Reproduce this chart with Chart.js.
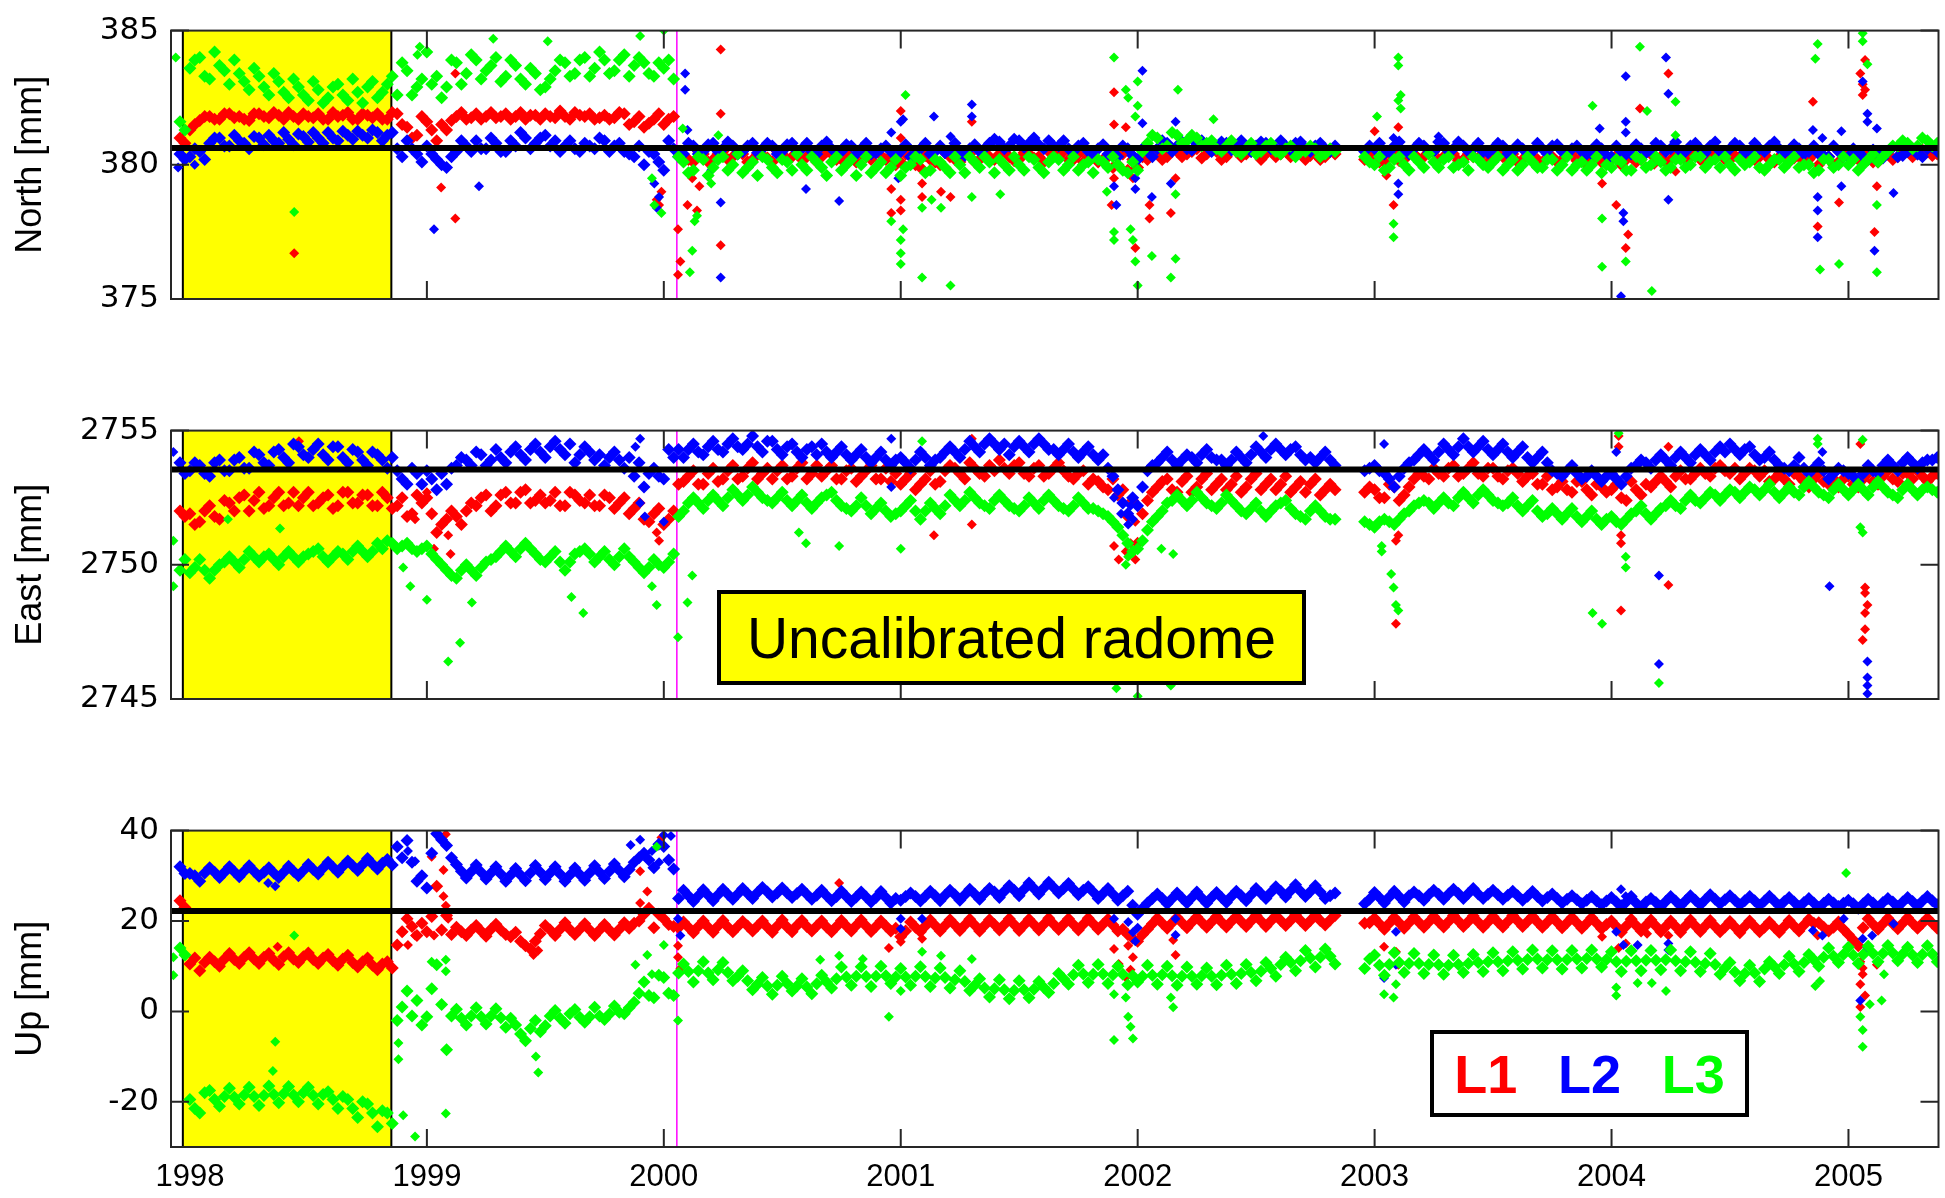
<!DOCTYPE html>
<html><head><meta charset="utf-8">
<script src="https://cdn.jsdelivr.net/npm/chart.js@4.4.1/dist/chart.umd.min.js"></script>
<style>
html,body{margin:0;padding:0;background:#fff;width:1945px;height:1198px;overflow:hidden;}
canvas{position:absolute;left:0;}
#radome{position:absolute;left:717px;top:590px;width:589px;height:95px;box-sizing:border-box;border:4px solid #000;background:#FFFF00;
  font-family:"Liberation Sans",Arial,sans-serif;font-size:57px;color:#000;display:flex;align-items:center;justify-content:center;white-space:nowrap;}
#legend{position:absolute;left:1430px;top:1030px;width:319px;height:87px;box-sizing:border-box;border:4px solid #000;background:#fff;
  display:flex;align-items:center;justify-content:center;font-family:"Liberation Sans",Arial,sans-serif;font-weight:bold;font-size:54px;}
#legend span{display:inline-block;width:108px;text-align:center;}
</style></head><body>
<canvas id="cN" width="1945" height="400" style="top:0px"></canvas>
<canvas id="cE" width="1945" height="400" style="top:400px"></canvas>
<canvas id="cU" width="1945" height="398" style="top:800px"></canvas>
<div id="radome"></div>
<div id="legend"></div>
<script>
// ---------- axes / annotation values ----------
const years = [1998, 1999, 2000, 2001, 2002, 2003, 2004, 2005];
const xRange = [1997.92, 2005.38];
const gridStart = 1997.958;          // first sample epoch (decimal year) of the A reads
const gridStep = 1 / 24;             // half-month sampling; B reads sit half a step later
const yellowSpan = [1997.97, 1998.85];
const radomeSwitch = 2000.055;
const panelTitles = ['North [mm]', 'East [mm]', 'Up [mm]'];
const northTicks = [375, 380, 385];
const eastTicks = [2745, 2750, 2755];
const upTicks = [-20, 0, 20, 40];
const yRanges = [[375, 385], [2745, 2755], [-30, 40]];
const refLevels = [380.63, 2753.55, 22.2];
const seriesNames = ['L1', 'L2', 'L3'];
const seriesColors = ['#FF0000', '#0000FF', '#00FF00'];
const boxText = 'Uncalibrated radome';

// ---------- North ----------
const nL1 = [381.0,
 381.3,381.65,381.8,381.7,381.9,381.8,381.65,381.9,381.75,381.85,381.95,381.7,381.8,381.9,381.7,381.8,381.95,381.7,381.85,381.9,381.7,381.9,381.4,381.1,
 381.6,380.9,381.3,381.8,381.7,381.9,381.8,381.75,381.9,381.8,381.7,381.85,381.9,381.75,381.8,381.95,381.8,381.7,381.85,381.75,381.9,381.6,381.4,381.7,
 381.5,381.8,380.3,380.1,380.4,380.2,380.5,380.3,380.4,380.2,380.35,380.1,380.4,380.3,380.2,380.45,380.3,380.4,380.2,380.3,380.4,380.2,380.35,380.3,
 380.1,380.3,379.9,380.2,380.0,380.3,380.1,380.4,380.2,380.3,380.4,380.3,380.2,380.4,380.3,380.5,380.3,380.2,380.4,380.3,380.1,380.3,380.0,379.8,
 379.9,380.2,380.4,380.3,380.5,380.4,380.6,380.4,380.5,380.3,380.5,380.4,380.6,380.4,380.3,380.5,380.4,380.2,380.4,380.3,380.4,null,null,380.2,
 380.3,380.1,380.4,380.2,380.4,380.3,380.5,380.3,380.4,380.2,380.3,380.4,380.2,380.3,380.4,380.2,380.3,380.1,380.3,380.2,380.4,380.3,380.2,380.1,
 380.2,380.0,380.3,380.2,380.4,380.3,380.2,380.4,380.3,380.2,380.3,380.4,380.2,380.3,380.4,380.3,380.2,380.3,380.1,380.3,380.2,380.0,380.3,380.1,
 380.4,380.2,380.3,380.1,380.4,380.3,380.5,380.4,380.5,380.4];
const nL1B = [380.8,
 381.5,381.8,381.7,381.9,381.75,381.7,381.9,381.8,381.95,381.7,381.8,381.9,381.75,381.7,381.95,381.85,381.7,381.9,381.75,381.7,381.95,381.5,381.0,381.8,
 381.3,381.5,381.65,381.95,381.75,381.7,381.95,381.8,381.7,381.95,381.85,381.7,381.8,382.0,381.7,381.85,381.9,381.75,381.7,381.95,381.5,381.8,381.55,381.9,
 381.7,380.5,380.2,380.5,380.1,380.4,380.2,380.45,380.1,380.4,380.25,380.5,380.15,380.4,380.3,380.1,380.5,380.2,380.45,380.1,380.3,380.5,380.2,380.0,
 380.4,380.0,380.35,380.1,380.45,380.2,380.5,380.1,380.45,380.2,380.5,380.15,380.45,380.25,380.1,380.4,380.5,380.2,380.1,380.45,380.2,379.9,380.4,380.2,
 380.3,380.5,380.2,380.6,380.3,380.5,380.25,380.6,380.2,380.55,380.3,380.5,380.2,380.55,380.4,380.3,380.55,380.35,380.2,380.5,null,null,null,380.4,
 380.1,380.4,380.15,380.45,380.2,380.5,380.2,380.45,380.15,380.4,380.25,380.1,380.45,380.2,380.1,380.4,380.2,380.45,380.1,380.4,380.15,380.0,380.35,380.3,
 380.35,380.2,380.1,380.45,380.15,380.1,380.45,380.2,380.4,380.1,380.45,380.2,380.35,380.15,380.2,380.45,380.1,380.4,380.25,380.05,380.4,380.25,380.0,380.35,
 380.2,380.45,380.1,380.35,380.2,380.5,380.3,380.55,380.35,null];
const nL2 = [380.4,
 380.3,380.5,380.8,381.0,380.7,380.9,380.6,381.0,381.1,380.8,380.95,381.15,380.85,381.0,381.2,380.9,381.1,381.25,381.0,381.2,381.1,380.6,380.9,380.4,
 380.7,380.2,379.9,380.5,380.7,380.9,380.6,380.8,380.5,380.7,381.0,380.8,381.1,380.9,380.7,380.6,380.8,380.6,380.9,380.7,380.5,380.3,380.0,380.4,
 379.8,380.6,380.4,380.7,380.5,380.8,380.6,380.7,380.5,380.8,380.6,380.7,380.5,380.8,380.6,380.5,380.7,380.6,380.5,380.7,380.6,380.4,380.6,380.5,
 380.5,380.3,380.6,380.4,380.7,380.5,380.4,380.6,380.5,380.8,380.85,380.7,380.9,380.8,380.75,380.9,380.7,380.6,380.7,380.5,380.6,380.4,380.3,380.6,
 380.2,380.5,380.6,380.8,380.7,380.6,380.8,380.7,380.6,380.8,380.7,380.6,380.7,380.8,380.6,380.7,380.8,380.6,380.7,380.6,380.7,null,null,380.5,
 380.6,380.4,380.7,380.5,380.6,380.7,380.5,380.8,380.6,380.7,380.6,380.5,380.6,380.7,380.5,380.6,380.5,380.6,380.7,380.5,380.6,380.5,380.4,380.6,
 380.3,380.5,380.4,380.6,380.5,380.7,380.6,380.5,380.7,380.6,380.7,380.5,380.6,380.7,380.5,380.6,380.7,380.6,380.5,380.6,380.5,380.4,380.3,380.5,
 380.3,380.5,380.2,380.4,380.5,380.3,380.5,380.4,380.6,380.5];
const nL2B = [380.2,
 380.6,380.2,381.0,380.7,381.1,380.8,381.05,380.75,380.9,381.2,380.75,381.05,381.2,380.8,381.0,381.25,380.95,381.1,381.3,380.9,381.2,380.3,380.6,380.1,
 380.4,380.0,380.3,380.9,380.5,380.6,381.0,380.5,380.9,381.2,380.6,381.0,380.7,380.5,380.9,380.5,380.7,381.0,380.5,380.8,380.4,380.7,380.5,380.1,
 380.9,380.3,380.8,380.4,380.75,380.5,380.85,380.4,380.7,380.45,380.8,380.4,380.75,380.5,380.8,380.4,380.85,380.45,380.75,380.4,380.8,380.45,380.7,380.4,
 380.75,380.4,380.8,380.5,380.45,380.8,380.35,380.75,380.6,380.95,380.6,380.95,380.65,381.0,380.6,380.7,380.9,380.5,380.8,380.4,380.75,380.5,380.7,380.35,
 380.6,380.3,380.9,380.5,380.85,380.55,380.9,380.5,380.85,380.55,380.9,380.5,380.85,380.6,380.9,380.55,380.85,380.5,380.8,380.5,null,null,null,380.7,
 380.8,380.5,380.85,380.4,380.8,380.45,380.85,380.5,380.85,380.5,380.8,380.45,380.8,380.4,380.75,380.45,380.8,380.4,380.75,380.4,380.7,380.4,380.75,380.35,
 380.7,380.4,380.75,380.45,380.8,380.5,380.85,380.5,380.8,380.45,380.85,380.5,380.8,380.45,380.8,380.5,380.85,380.45,380.75,380.4,380.7,380.35,380.7,380.3,
 380.6,380.3,380.55,380.25,380.65,380.35,380.6,380.3,380.65,null];
const nL3 = [381.6,
 383.6,384.0,383.2,383.7,383.0,383.4,382.8,383.3,382.6,383.1,382.5,382.9,382.4,382.8,382.5,383.0,382.4,382.7,382.9,382.5,383.0,382.6,383.5,382.9,
 384.2,383.3,382.9,383.8,383.4,383.9,383.5,384.0,383.3,383.7,383.0,383.4,382.9,383.5,383.8,383.4,384.0,383.6,383.9,383.5,384.1,383.7,383.8,383.3,
 383.6,383.2,380.1,379.8,380.2,379.9,380.3,380.0,379.7,380.1,380.3,379.9,380.2,379.8,380.0,380.3,379.9,380.1,379.8,380.2,380.0,379.7,380.1,379.9,
 379.6,380.0,380.2,379.8,380.1,379.7,380.0,380.3,379.9,380.1,380.2,379.8,380.0,380.3,379.9,380.1,380.2,380.0,379.8,380.1,380.2,379.9,380.0,379.7,
 379.8,380.8,381.0,380.7,381.1,380.9,381.0,380.8,380.6,380.7,380.5,380.6,380.4,380.7,380.5,380.6,380.3,380.5,380.6,380.4,380.5,null,null,380.3,
 380.0,379.8,380.2,380.0,380.3,379.9,380.1,380.2,379.9,380.1,380.3,380.0,380.1,379.8,380.2,380.0,380.1,379.9,380.2,380.0,379.8,380.1,380.0,379.7,
 379.9,380.1,379.8,380.2,380.0,380.1,379.9,380.2,380.0,380.3,380.1,379.9,380.0,380.2,380.1,379.9,380.0,380.2,380.1,379.9,380.0,379.8,380.2,380.0,
 380.0,379.8,380.2,380.1,380.5,380.7,380.8,380.7,380.9,380.8];
const nL3B = [381.3,
 383.9,383.3,384.2,383.5,383.9,383.1,383.6,382.9,383.4,382.7,383.2,382.6,383.1,382.3,382.9,382.6,383.2,382.3,383.1,382.7,383.3,383.8,382.6,383.2,
 383.0,382.5,383.9,383.0,384.1,383.2,383.7,383.1,383.9,383.2,383.6,382.8,383.2,383.9,383.3,383.9,383.3,384.2,383.4,383.9,383.3,384.0,383.4,383.8,
 383.9,380.3,379.7,380.3,379.6,380.2,379.8,380.4,379.9,379.6,380.2,379.7,380.1,380.4,379.8,380.1,379.6,380.3,380.0,379.6,380.3,379.9,379.7,380.2,
 379.9,380.3,379.7,380.2,379.9,380.3,379.7,380.1,380.3,379.7,380.0,380.3,379.8,380.2,379.7,380.3,379.8,380.3,380.0,379.7,380.1,380.3,379.8,380.1,
 380.5,381.1,380.6,381.2,380.8,381.1,380.7,380.9,380.5,380.9,380.4,380.8,380.5,380.8,380.4,380.7,380.5,380.7,380.3,380.6,null,null,null,380.1,
 380.3,379.9,380.3,379.8,380.1,380.4,379.9,380.3,380.0,379.8,380.2,379.9,380.3,380.0,379.8,380.3,379.9,380.2,379.8,380.3,380.0,379.8,380.3,380.0,
 380.2,379.8,380.3,379.9,380.3,379.8,380.2,379.9,380.3,379.9,380.2,380.3,379.8,380.0,380.3,379.8,380.2,379.9,380.3,380.0,379.7,380.2,379.9,380.3,
 380.2,380.0,380.4,380.3,380.7,380.9,380.6,381.0,380.7,null];
const nL1x = [[1998.44,376.7],[1999.06,379.15],[1999.12,378.0],[1999.12,383.4],[1999.97,378.7],[1999.98,378.5],[1999.99,379.0],[2000.06,377.6],[2000.07,376.4],[2000.06,375.9],[2000.1,378.5],[2000.12,379.5],[2000.15,379.2],[2000.14,378.3],[2000.24,384.3],[2000.24,381.9],[2000.24,377.0],[2001.0,382.0],[2001.0,381.0],[2000.96,379.1],[2001.0,378.7],[2001.0,378.3],[2000.96,378.2],[2001.09,379.3],[2001.09,378.8],[2001.17,379.0],[2001.21,378.8],[2001.3,381.6],[2001.9,382.7],[2001.9,381.5],[2001.95,381.4],[2001.9,379.5],[2001.89,378.5],[2001.99,379.9],[2001.98,379.5],[2001.99,376.9],[2002.05,378.5],[2002.05,378.0],[2002.14,378.2],[2002.16,379.5],[2003.0,381.25],[2003.1,381.4],[2003.05,379.6],[2003.08,378.5],[2004.12,382.1],[2004.24,383.4],[2004.02,378.5],[2004.06,376.9],[2004.07,377.4],[2003.96,379.3],[2004.18,380.0],[2004.27,379.75],[2004.85,382.35],[2004.87,377.7],[2004.96,378.6],[2005.05,383.4],[2005.06,383.0],[2005.07,382.8],[2005.06,382.6],[2005.07,383.9],[2005.11,377.5],[2005.12,379.2]];
const nL2x = [[1997.95,379.9],[1998.02,380.0],[1999.03,377.6],[1999.22,379.2],[1999.96,379.3],[1999.97,378.4],[1999.98,378.8],[2000.09,383.4],[2000.09,382.8],[2000.1,381.3],[2000.2,379.8],[2000.24,375.8],[2000.24,378.6],[2000.6,379.1],[2000.74,378.65],[2000.96,381.2],[2000.96,379.9],[2000.99,379.5],[2001.01,381.7],[2001.0,381.6],[2001.14,381.8],[2001.21,381.05],[2001.3,382.25],[2001.3,381.8],[2001.9,379.2],[2001.91,378.5],[2001.99,379.1],[2001.99,379.5],[2002.02,383.5],[2002.02,381.55],[2002.06,378.8],[2002.14,379.3],[2002.16,381.6],[2003.08,381.0],[2003.1,379.3],[2003.1,378.9],[2003.27,381.05],[2003.95,381.35],[2004.06,383.3],[2004.06,381.6],[2004.06,381.2],[2004.05,378.2],[2004.05,377.9],[2004.04,375.1],[2004.23,384.0],[2004.24,382.65],[2004.24,378.7],[2004.85,381.3],[2004.87,378.8],[2004.87,378.3],[2004.87,377.3],[2004.89,381.0],[2004.97,381.25],[2004.97,379.2],[2005.06,383.1],[2005.08,381.9],[2005.08,381.6],[2005.12,381.35],[2005.11,376.8],[2005.19,378.95]];
const nL3x = [[1997.94,384.0],[1998.44,378.24],[1998.96,384.1],[1998.97,384.4],[1999.28,384.7],[1999.51,384.6],[1999.9,384.8],[2000.0,385.0],[1999.95,379.5],[1999.96,378.5],[1999.99,378.2],[2000.08,381.35],[2000.23,381.1],[2000.2,379.3],[2000.13,377.9],[2000.12,376.8],[2000.11,376.0],[2000.14,378.1],[2001.02,382.6],[2000.96,377.9],[2001.01,377.6],[2001.0,377.2],[2001.0,376.7],[2001.0,376.3],[2001.09,375.8],[2001.21,375.5],[2001.09,378.4],[2001.13,378.7],[2001.17,378.4],[2001.3,378.8],[2001.42,378.9],[2001.9,384.0],[2001.95,382.8],[2001.96,382.5],[2002.0,383.1],[2002.0,382.2],[2001.99,381.8],[2002.17,382.8],[2002.32,381.7],[2001.9,377.5],[2001.9,377.2],[2001.97,377.6],[2001.98,377.2],[2001.99,376.4],[2002.0,375.5],[2002.06,376.6],[2002.14,375.8],[2002.16,376.5],[2002.16,378.9],[2001.87,379.0],[2003.01,381.8],[2003.1,384.0],[2003.1,383.7],[2003.11,382.6],[2003.1,382.4],[2003.11,382.1],[2003.08,377.8],[2003.08,377.3],[2003.92,382.2],[2004.12,384.4],[2004.15,382.0],[2004.27,382.35],[2004.27,381.1],[2003.96,378.0],[2003.96,376.2],[2004.06,376.4],[2004.17,375.3],[2004.87,384.5],[2004.86,383.95],[2004.88,376.1],[2004.96,376.3],[2005.06,384.9],[2005.06,384.6],[2005.08,383.75],[2005.12,376.0],[2005.12,378.5]];

// ---------- East ----------
const eL1 = [2752.0,
 2751.9,2751.6,2752.2,2751.7,2752.3,2752.5,2752.0,2752.7,2752.2,2752.7,2752.3,2752.2,2752.7,2752.3,2752.6,2752.2,2752.7,2752.3,2752.6,2752.2,2752.5,2752.2,2751.8,2752.6,
 2752.5,2751.2,2751.7,2751.8,2752.0,2752.2,2752.6,2752.2,2752.7,2752.3,2752.8,2752.4,2752.3,2752.7,2752.2,2752.6,2752.3,2752.2,2752.6,2752.1,2752.5,2752.1,2751.7,2751.9,
 2751.5,2752.0,2753.1,2753.5,2753.0,2753.6,2753.2,2753.7,2753.3,2753.8,2753.4,2753.2,2753.7,2753.3,2753.8,2753.4,2753.3,2753.7,2753.2,2753.6,2753.3,2753.7,2753.2,2753.1,
 2753.0,2753.4,2753.0,2753.5,2753.1,2753.7,2753.4,2753.8,2753.4,2753.7,2753.9,2753.4,2753.8,2753.3,2753.7,2753.4,2753.8,2753.3,2753.4,2753.0,2753.1,2752.8,2752.6,2751.8,
 2750.8,2752.4,2752.9,2753.2,2752.7,2753.3,2752.9,2753.4,2753.0,2752.8,2753.3,2752.9,2753.4,2753.0,2752.8,2753.3,2752.9,2752.7,2753.2,2752.8,2752.8,null,null,2752.7,
 2752.8,2752.5,2752.9,2752.6,2753.2,2753.3,2753.6,2753.3,2753.7,2753.4,2753.8,2753.3,2753.6,2753.2,2753.6,2753.1,2753.4,2753.0,2752.8,2753.1,2752.7,2753.1,2752.6,2752.9,
 2752.8,2752.5,2753.1,2752.6,2752.9,2753.3,2752.9,2753.5,2753.2,2753.6,2753.3,2753.7,2753.4,2753.2,2753.6,2753.3,2753.1,2753.4,2753.0,2753.3,2752.9,2753.4,2753.0,2752.9,
 2753.3,2752.9,2753.4,2753.0,2753.5,2753.1,2753.4,2753.5,2753.1,2753.4];
const eL1B = [2751.8,
 2751.5,2752.0,2751.8,2752.4,2752.0,2752.6,2752.4,2752.1,2752.5,2752.2,2752.7,2752.5,2752.2,2752.5,2752.1,2752.7,2752.3,2752.6,2752.2,2752.7,2752.1,2752.5,2751.9,2752.3,
 2751.9,2751.5,2752.0,2751.5,2752.3,2752.5,2752.0,2752.6,2752.3,2752.7,2752.3,2752.6,2752.4,2752.2,2752.7,2752.4,2752.6,2752.2,2752.5,2752.3,2751.9,2752.3,2751.6,2752.1,
 2751.7,2753.0,2753.3,2753.0,2753.4,2753.1,2753.5,2753.2,2753.6,2753.2,2753.6,2753.5,2753.2,2753.6,2753.2,2753.7,2753.5,2753.2,2753.5,2753.1,2753.5,2753.2,2753.6,2753.4,
 2753.2,2752.8,2753.2,2753.0,2753.5,2753.6,2753.2,2753.6,2753.3,2753.5,2753.6,2753.7,2753.4,2753.6,2753.3,2753.6,2753.5,2753.2,2753.5,2753.2,2752.9,2753.2,2752.8,2752.4,
 2751.9,2752.7,2753.1,2752.8,2753.1,2752.7,2753.2,2752.8,2753.2,2753.0,2752.7,2753.2,2752.8,2753.2,2753.0,2752.7,2753.1,2753.0,2752.6,2753.0,null,null,null,2752.9,
 2752.5,2753.0,2752.4,2752.9,2753.4,2753.2,2753.4,2753.6,2753.3,2753.6,2753.4,2753.6,2753.3,2753.5,2753.4,2753.3,2753.0,2753.3,2752.9,2752.8,2753.1,2752.8,2753.0,2752.7,
 2753.0,2752.4,2752.8,2753.0,2753.1,2753.1,2753.3,2753.2,2753.4,2753.4,2753.6,2753.5,2753.6,2753.4,2753.5,2753.5,2753.2,2753.2,2753.4,2753.1,2753.2,2753.1,2753.2,2753.2,
 2753.0,2753.2,2753.1,2753.3,2753.2,2753.4,2753.2,2753.3,2753.3,null];
const eL2 = [2753.8,
 2753.5,2753.7,2753.3,2753.9,2753.5,2754.0,2753.6,2754.1,2753.7,2754.3,2753.8,2754.4,2754.0,2754.5,2753.9,2754.4,2753.8,2754.2,2753.7,2754.1,2753.6,2753.5,2753.0,2753.4,
 2753.5,2752.8,2753.0,2753.7,2753.9,2754.2,2753.7,2754.3,2753.8,2754.4,2753.9,2754.5,2754.0,2754.6,2754.1,2753.8,2754.4,2753.9,2753.7,2754.2,2753.6,2753.3,2752.9,2753.6,
 2753.2,2754.0,2754.0,2754.5,2754.1,2754.6,2754.2,2754.7,2754.3,2754.8,2754.2,2754.6,2754.1,2754.5,2754.0,2754.4,2754.5,2754.0,2754.4,2753.9,2754.3,2753.8,2754.2,2753.7,
 2754.0,2753.6,2754.2,2753.7,2754.0,2754.4,2754.0,2754.6,2754.2,2754.7,2754.3,2754.1,2754.6,2754.2,2754.7,2754.3,2754.1,2754.5,2754.0,2754.4,2753.9,2753.6,2752.8,2751.9,
 2752.2,2753.5,2753.8,2754.2,2753.7,2754.1,2753.8,2754.3,2753.9,2753.7,2754.2,2753.8,2754.4,2754.0,2754.5,2754.1,2754.4,2753.9,2753.8,2754.2,2753.7,null,null,2753.5,
 2753.7,2753.4,2752.9,2753.6,2753.9,2754.3,2753.9,2754.5,2754.1,2754.7,2754.2,2754.6,2754.1,2754.5,2754.0,2754.4,2753.8,2754.2,2753.5,2753.3,2753.7,2753.2,2753.5,2753.1,
 2753.4,2753.0,2753.6,2753.9,2753.6,2754.1,2753.7,2754.2,2753.8,2754.3,2753.9,2754.4,2754.5,2754.1,2754.4,2753.9,2754.2,2753.7,2753.5,2754.0,2753.4,2753.8,2753.2,2753.6,
 2753.4,2753.1,2753.7,2753.4,2753.9,2753.5,2754.0,2753.6,2753.9,2754.0];
const eL2B = [2753.4,
 2753.8,2753.4,2753.8,2753.5,2753.9,2753.6,2754.2,2753.8,2754.2,2754.0,2754.5,2754.1,2754.3,2754.1,2754.4,2754.0,2754.3,2753.9,2754.2,2753.9,2754.0,2753.2,2753.6,2753.0,
 2753.2,2753.4,2753.6,2754.0,2753.7,2754.1,2753.9,2754.0,2754.2,2754.1,2754.3,2754.2,2754.4,2754.3,2754.5,2754.1,2754.2,2754.1,2754.0,2753.9,2754.0,2753.8,2753.4,2753.3,
 2754.3,2754.3,2754.3,2754.2,2754.4,2754.3,2754.5,2754.4,2754.5,2754.4,2754.6,2754.3,2754.4,2754.2,2754.3,2754.1,2754.2,2754.2,2754.1,2754.1,2754.0,2754.0,2753.9,2753.9,
 2753.8,2753.9,2754.0,2753.9,2754.2,2754.2,2754.3,2754.4,2754.5,2754.5,2754.5,2754.4,2754.4,2754.5,2754.5,2754.3,2754.3,2754.2,2754.2,2754.1,2754.1,2753.3,2752.3,2752.5,
 2752.9,2753.7,2754.0,2753.9,2753.9,2754.0,2754.1,2754.0,2753.9,2753.9,2754.0,2754.1,2754.2,2754.3,2754.3,2754.3,2754.1,2754.0,2754.0,2753.9,null,null,null,2753.6,
 2753.5,2753.2,2753.3,2753.8,2754.1,2754.1,2754.2,2754.3,2754.4,2754.4,2754.4,2754.3,2754.3,2754.2,2754.2,2754.0,2754.0,2753.8,2753.4,2753.5,2753.4,2753.3,2753.3,2753.3,
 2753.2,2753.3,2753.7,2753.8,2753.9,2753.9,2754.0,2754.0,2754.1,2754.1,2754.2,2754.2,2754.3,2754.3,2754.1,2754.0,2753.9,2753.6,2753.7,2753.6,2753.6,2753.5,2753.4,2753.5,
 2753.3,2753.4,2753.5,2753.7,2753.7,2753.8,2753.8,2753.8,2753.9,null];
const eL3 = [2749.8,
 2749.7,2750.2,2749.5,2750.0,2750.3,2749.9,2750.5,2750.1,2750.4,2750.0,2750.5,2750.1,2750.4,2750.6,2750.1,2750.5,2750.2,2750.7,2750.3,2750.8,2750.9,2750.6,2750.8,2750.5,
 2750.7,2750.2,2749.8,2749.5,2750.0,2749.6,2750.1,2750.3,2750.7,2750.3,2750.8,2750.4,2750.1,2750.5,2749.8,2750.4,2750.6,2750.1,2750.5,2750.0,2750.6,2750.1,2749.7,2750.2,
 2749.9,2750.4,2752.0,2752.5,2752.1,2752.6,2752.2,2752.8,2752.4,2752.9,2752.5,2752.3,2752.7,2752.2,2752.6,2752.1,2752.5,2752.7,2752.2,2752.0,2752.5,2751.9,2752.3,2751.8,
 2752.0,2752.4,2751.7,2752.3,2751.9,2752.6,2752.2,2752.7,2752.3,2752.1,2752.6,2752.2,2752.0,2752.5,2752.1,2752.6,2752.2,2752.0,2752.5,2752.1,2752.0,2751.8,2751.4,2750.8,
 2750.6,2751.3,2751.8,2752.3,2752.6,2752.2,2752.7,2752.3,2752.1,2752.6,2752.2,2751.9,2752.3,2751.8,2752.2,2752.4,2751.9,2751.7,2752.2,2751.8,2751.7,null,null,2751.6,
 2751.4,2751.7,2751.5,2751.9,2752.2,2752.4,2752.1,2752.5,2752.2,2752.7,2752.3,2752.8,2752.4,2752.2,2752.5,2752.0,2752.4,2751.8,2752.1,2751.7,2752.1,2751.6,2752.0,2751.5,
 2751.8,2751.5,2751.9,2752.2,2751.7,2752.1,2752.4,2752.1,2752.6,2752.3,2752.7,2752.4,2752.8,2752.5,2752.9,2752.6,2753.0,2752.5,2752.9,2752.6,2753.1,2752.7,2752.5,2753.0,
 2752.6,2753.0,2752.6,2753.1,2752.7,2752.5,2753.0,2752.6,2752.9,2752.7];
const eL3B = [2750.2,
 2749.9,2749.8,2749.8,2750.1,2750.1,2750.2,2750.3,2750.3,2750.2,2750.3,2750.3,2750.3,2750.5,2750.3,2750.3,2750.4,2750.5,2750.5,2750.5,2750.6,2750.8,2750.7,2750.6,2750.6,
 2750.4,2750.0,2749.6,2749.8,2749.8,2749.9,2750.2,2750.5,2750.5,2750.6,2750.6,2750.2,2750.3,2750.1,2750.1,2750.5,2750.4,2750.3,2750.2,2750.3,2750.3,2749.9,2749.9,2750.0,
 2750.1,2751.8,2752.3,2752.3,2752.4,2752.4,2752.5,2752.6,2752.6,2752.7,2752.4,2752.5,2752.4,2752.4,2752.3,2752.3,2752.6,2752.4,2752.1,2752.2,2752.2,2752.1,2752.0,2751.9,
 2752.2,2752.0,2752.0,2752.1,2752.2,2752.4,2752.4,2752.5,2752.2,2752.4,2752.4,2752.1,2752.2,2752.3,2752.4,2752.4,2752.1,2752.2,2752.3,2752.1,2751.9,2751.6,2751.1,2750.5,
 2750.9,2751.6,2752.0,2752.4,2752.4,2752.4,2752.5,2752.2,2752.3,2752.4,2752.0,2752.1,2752.0,2752.0,2752.3,2752.1,2751.8,2752.0,2752.0,2751.7,null,null,null,2751.5,
 2751.6,2751.6,2751.7,2752.0,2752.3,2752.3,2752.3,2752.3,2752.5,2752.5,2752.6,2752.6,2752.3,2752.3,2752.2,2752.2,2752.0,2751.9,2751.9,2751.9,2751.8,2751.8,2751.7,2751.7,
 2751.6,2751.7,2752.0,2751.9,2751.9,2752.2,2752.2,2752.4,2752.4,2752.5,2752.6,2752.6,2752.7,2752.7,2752.8,2752.8,2752.7,2752.7,2752.7,2752.9,2752.9,2752.6,2752.8,2752.8,
 2752.8,2752.8,2752.9,2752.9,2752.6,2752.8,2752.8,2752.8,2752.8,null];
const eL1x = [[1998.46,2754.6],[1998.95,2751.7],[1998.97,2752.5],[1999.0,2752.7],[1999.03,2750.6],[1999.09,2751.1],[1999.1,2750.4],[1999.97,2751.2],[1999.98,2750.9],[2001.14,2751.1],[2001.3,2751.5],[2001.3,2754.7],[2001.9,2750.7],[2001.92,2750.2],[2001.95,2750.5],[2001.97,2750.8],[2001.99,2750.2],[2001.99,2751.6],[2003.09,2747.8],[2003.09,2750.9],[2003.1,2751.1],[2004.03,2754.8],[2004.03,2754.4],[2004.04,2748.3],[2004.04,2751.1],[2004.04,2750.8],[2004.24,2754.4],[2004.24,2749.25],[2005.05,2754.5],[2005.07,2749.15],[2005.07,2748.95],[2005.08,2748.5],[2005.07,2748.2],[2005.07,2747.6],[2005.06,2747.2]];
const eL2x = [[1997.93,2754.2],[1999.88,2754.4],[1999.9,2754.7],[1999.9,2752.3],[1999.92,2751.8],[2000.0,2751.6],[2000.96,2754.7],[2000.96,2752.9],[2001.9,2752.5],[2001.93,2751.9],[2001.96,2751.5],[2001.98,2751.7],[2001.97,2752.2],[2002.53,2754.8],[2003.04,2754.5],[2004.02,2754.2],[2004.2,2749.6],[2004.2,2746.3],[2004.89,2754.2],[2004.92,2749.2],[2005.08,2746.4],[2005.08,2745.8],[2005.08,2745.5],[2005.08,2745.2]];
const eL3x = [[1997.93,2750.9],[1997.93,2749.2],[1998.16,2751.7],[1998.38,2751.35],[1998.9,2749.9],[1998.93,2749.2],[1999.0,2748.7],[1999.09,2746.4],[1999.14,2747.1],[1999.19,2748.6],[1999.61,2748.8],[1999.66,2748.2],[1999.95,2749.2],[1999.97,2748.5],[2000.06,2747.3],[2000.1,2748.6],[2000.12,2749.6],[2000.57,2751.2],[2000.6,2750.8],[2000.74,2750.7],[2001.0,2750.6],[2001.09,2754.6],[2002.1,2750.6],[2002.15,2750.4],[2001.9,2746.8],[2002.0,2746.75],[2002.0,2746.2],[2002.0,2745.7],[2001.91,2745.4],[2002.0,2745.1],[2002.14,2745.5],[2001.95,2750.0],[2001.96,2750.3],[2003.03,2750.7],[2003.03,2750.5],[2003.07,2749.66],[2003.08,2749.15],[2003.09,2748.5],[2003.1,2748.3],[2003.92,2748.2],[2003.96,2747.8],[2004.06,2750.3],[2004.06,2749.9],[2004.03,2754.9],[2004.2,2745.6],[2004.87,2754.7],[2004.87,2754.5],[2005.06,2754.66],[2005.05,2751.4],[2005.06,2751.2]];

// ---------- Up ----------
const uL1 = [24.5,
 10.5,9.0,12.0,10.0,12.8,10.6,13.0,10.6,12.8,10.4,13.0,10.8,12.9,10.6,12.6,10.2,12.4,9.8,11.8,9.2,11.0,14.7,20.5,16.8,
 17.6,27.7,21.2,18.6,16.8,19.0,16.6,19.3,17.0,17.5,14.5,15.5,19.0,16.8,19.6,17.0,19.4,16.8,19.2,16.9,19.6,19.5,21.5,18.5,
 20.5,18.8,19.8,17.4,20.0,17.5,20.1,17.6,19.9,17.8,20.0,17.5,20.2,17.6,20.1,17.8,20.0,17.6,20.1,17.8,20.2,17.7,20.0,17.8,
 16.5,19.8,17.6,20.2,17.8,20.3,17.9,20.4,17.8,20.3,18.0,20.5,17.9,20.4,18.0,20.6,18.1,20.5,18.0,20.6,18.2,20.4,17.8,17.0,
 15.5,18.2,20.6,18.4,20.8,18.5,20.9,18.6,21.0,18.7,21.0,18.8,21.2,18.8,21.1,19.0,21.3,19.0,21.2,19.1,21.2,null,null,19.5,
 20.6,18.2,20.8,18.4,20.9,18.6,21.0,18.7,21.2,18.8,21.1,18.6,21.0,18.7,21.2,18.8,21.0,18.6,20.9,18.5,20.8,18.4,20.7,18.3,
 20.0,17.5,20.4,17.8,20.2,17.6,20.0,17.5,20.2,17.7,20.1,17.6,19.9,17.4,20.0,17.6,19.8,17.5,20.1,17.8,20.4,19.6,17.8,19.8,
 17.0,14.5,20.5,18.2,20.6,18.3,20.7,18.4,20.6,18.4];
const uL1B = [23.0,
 11.8,10.8,11.0,11.6,11.5,12.0,11.6,12.0,11.3,12.1,11.6,12.1,11.5,11.8,11.2,11.6,10.8,11.0,10.2,10.5,9.6,17.6,18.8,19.5,
 21.0,18.0,17.0,17.6,18.0,17.8,18.2,18.0,16.5,15.5,13.8,17.2,18.0,18.2,18.1,18.2,18.0,18.0,18.0,18.2,18.4,20.0,22.8,21.5,
 19.2,18.5,18.6,18.8,18.6,18.9,18.7,18.8,18.9,18.9,18.6,18.9,18.7,19.0,18.8,18.9,18.7,18.8,18.9,19.0,18.9,18.8,18.9,18.4,
 17.8,18.6,18.9,19.0,19.0,19.1,19.1,19.1,19.0,19.2,19.2,19.2,19.1,19.2,19.3,19.3,19.3,19.2,19.3,19.4,19.3,19.1,18.2,16.2,
 17.0,19.4,19.5,19.6,19.6,19.7,19.7,19.8,19.8,19.9,19.9,20.0,20.0,20.0,20.1,20.1,20.1,20.1,20.1,20.2,null,null,null,19.6,
 19.4,19.5,19.6,19.6,19.7,19.8,19.8,19.9,20.0,19.9,19.8,19.8,19.8,19.9,20.0,19.9,19.8,19.7,19.7,19.6,19.6,19.5,19.5,19.2,
 18.8,18.9,19.0,19.0,18.9,18.8,18.8,18.9,18.9,18.9,18.8,18.7,18.7,18.8,18.8,18.6,18.6,18.8,18.9,19.1,19.5,18.6,18.6,18.2,
 15.8,18.5,19.3,19.4,19.4,19.5,19.5,19.5,19.5,null];
const uL2 = [32.0,
 30.5,28.8,31.8,29.6,32.0,29.8,32.2,29.9,31.8,29.6,32.1,30.0,32.5,30.4,33.0,30.8,33.3,31.2,33.8,31.5,33.6,36.4,37.8,28.8,
 27.3,39.3,36.7,32.5,29.5,32.4,29.3,32.0,28.8,31.6,28.9,32.3,29.2,32.0,28.8,31.7,29.0,32.2,29.4,32.6,29.8,33.0,35.0,31.8,
 36.5,31.5,26.8,24.3,26.9,24.5,27.0,24.8,27.2,25.0,27.4,25.3,27.3,25.2,27.0,24.8,26.8,24.5,26.6,24.3,26.4,24.2,26.5,24.0,
 24.6,26.2,24.4,26.6,24.5,26.8,24.6,27.0,24.8,27.2,25.2,27.8,25.6,28.4,26.0,28.6,26.2,28.3,25.8,27.6,25.0,27.2,24.6,26.6,
 21.5,24.0,26.0,23.8,26.2,24.0,26.4,23.9,26.3,24.1,26.6,24.5,27.2,25.0,27.6,25.3,28.0,25.4,27.8,25.0,26.2,null,null,23.8,
 26.3,24.0,26.6,24.2,26.4,24.6,26.8,24.8,27.0,25.0,27.2,25.0,26.8,24.8,26.6,24.6,26.5,24.4,26.0,24.0,25.6,23.8,25.4,23.6,
 25.2,23.4,25.4,23.0,25.0,23.2,25.4,23.4,25.6,23.6,25.8,23.8,25.6,23.6,25.4,23.5,25.5,23.4,25.2,23.2,25.0,23.0,24.8,23.2,
 24.6,22.8,24.8,23.0,25.0,23.2,25.2,23.4,25.4,23.6];
const uL2B = [30.5,
 30.0,30.6,30.8,30.8,30.9,31.0,31.0,30.8,30.6,30.8,31.0,31.2,31.4,31.7,31.9,32.1,32.2,32.5,32.6,32.8,32.4,34.0,33.0,30.0,
 35.0,38.0,34.0,31.0,30.9,30.8,30.6,30.4,30.2,30.2,30.6,30.8,30.6,30.4,30.2,30.3,30.6,30.8,31.0,31.2,31.4,34.0,33.5,37.0,
 33.5,25.0,25.6,25.6,25.7,25.8,25.9,26.0,26.1,26.3,26.4,26.2,26.2,26.1,25.9,25.7,25.6,25.4,25.4,25.3,25.3,25.2,25.2,25.0,
 25.4,25.4,25.5,25.6,25.7,25.8,25.8,26.0,26.1,26.4,26.6,26.8,27.0,27.2,27.3,27.4,27.2,27.0,26.8,26.4,26.1,25.9,25.6,23.5,
 22.8,25.0,25.0,25.0,25.1,25.2,25.1,25.2,25.2,25.4,25.6,25.8,26.1,26.3,26.6,26.7,26.6,26.5,26.4,25.6,null,null,null,24.8,
 25.2,25.3,25.4,25.6,25.6,25.8,25.9,26.0,26.1,26.1,26.0,25.9,25.8,25.7,25.6,25.5,25.4,25.2,25.0,24.8,24.7,24.6,24.4,24.4,
 24.2,24.2,24.0,24.2,24.1,24.3,24.4,24.5,24.6,24.7,24.8,24.7,24.6,24.5,24.5,24.4,24.4,24.3,24.2,24.1,24.0,23.9,24.0,23.9,
 23.8,23.8,24.0,24.1,24.2,24.2,24.3,24.4,24.5,null];
const uL3 = [14.0,
 -19.5,-22.5,-17.5,-21.0,-17.0,-20.5,-16.8,-20.8,-16.5,-20.2,-16.6,-20.0,-16.8,-20.5,-17.8,-21.5,-19.5,-23.5,-20.5,-25.5,-22.5,-2.0,4.5,2.4,
 -1.2,10.3,-8.5,0.5,-3.0,0.8,-2.8,0.6,-3.5,-3.0,-6.5,-2.0,-3.2,0.2,-2.6,0.4,-2.4,0.9,-1.8,1.2,-0.5,2.0,6.5,3.0,
 7.5,3.5,10.5,6.5,11.0,7.0,10.8,6.8,9.0,4.8,7.5,3.8,7.8,4.5,7.2,3.9,8.0,5.2,9.8,5.8,9.9,5.5,10.0,6.2,
 9.5,5.8,9.9,5.5,9.6,5.2,9.0,4.6,7.2,3.2,7.0,2.8,6.8,3.0,6.6,4.2,8.4,6.0,10.2,6.4,10.4,6.2,10.0,5.9,
 6.5,10.2,6.0,10.0,5.8,9.8,6.0,9.6,5.9,10.2,6.2,10.4,6.8,10.8,7.8,12.0,9.0,13.5,9.8,13.8,10.5,null,null,9.5,
 12.5,8.0,13.0,8.6,12.8,8.4,12.5,8.2,12.4,8.6,12.6,8.8,13.0,9.0,13.2,9.4,13.6,9.6,13.4,9.4,13.5,9.6,13.6,9.8,
 13.2,8.8,13.4,9.0,13.5,9.2,13.6,9.0,13.2,8.8,12.8,8.2,10.8,6.8,10.2,6.6,11.0,8.4,12.2,8.8,12.6,10.0,14.0,10.8,
 14.2,10.6,14.4,11.0,14.6,11.2,14.2,10.8,14.5,11.0];
const uL3B = [12.5,
 -21.5,-18.0,-19.5,-18.8,-19.0,-18.5,-18.8,-18.6,-18.4,-18.2,-18.5,-18.0,-18.6,-18.4,-19.5,-18.8,-21.5,-20.0,-22.5,-22.0,-24.8,1.0,-1.0,-3.0,
 5.0,1.5,-1.0,-1.5,-1.0,-1.2,-1.0,-1.4,-1.5,-5.0,-3.8,-4.5,-1.0,-1.5,-0.5,-1.3,-1.2,-1.0,-0.6,-0.2,0.8,4.0,3.5,8.0,
 4.0,8.5,8.8,9.0,8.5,9.2,8.6,7.8,6.8,6.0,5.6,5.8,6.2,5.6,5.4,6.1,6.5,7.2,7.6,7.8,7.7,7.8,7.9,7.6,
 7.6,7.8,7.7,7.4,7.5,7.0,6.6,5.8,5.2,5.0,4.8,4.6,4.8,4.9,5.3,6.2,7.2,8.1,8.3,8.2,8.3,8.1,8.2,7.9,
 7.8,8.0,8.1,7.9,7.8,7.8,7.9,7.8,8.0,8.2,8.4,8.6,8.9,9.5,10.4,10.8,11.2,11.8,12.0,12.2,null,null,null,11.6,
 10.2,10.4,10.8,10.6,10.6,10.4,10.3,10.2,10.4,10.6,10.8,11.0,11.0,11.2,11.3,11.5,11.6,11.4,11.4,11.5,11.6,11.7,11.6,11.5,
 11.0,11.1,11.2,11.3,11.3,11.4,11.2,11.0,10.9,10.6,10.4,9.6,8.7,8.4,8.5,9.4,9.9,10.3,10.5,10.8,11.4,12.0,12.2,12.6,
 12.4,12.6,12.8,12.8,12.9,12.7,12.5,12.6,12.7,null];
const uL1x = [[1998.37,14.3],[1998.9,17.6],[1998.92,14.7],[1998.95,16.8],[1999.02,34.2],[1999.03,16.8],[1999.07,31.3],[1999.07,25.5],[1999.08,23.4],[1999.09,20.5],[1999.08,39.2],[1999.45,12.5],[1999.47,13.5],[1999.9,31.0],[1999.93,26.5],[1999.9,24.0],[1999.99,38.5],[2000.06,12.0],[2000.07,9.5],[2000.06,14.5],[2000.74,28.4],[2000.95,14.0],[2001.0,15.4],[2001.09,16.1],[2001.9,13.8],[2001.92,10.5],[2001.95,7.5],[2001.97,9.2],[2001.98,12.0],[2001.96,14.5],[2002.16,12.5],[2002.15,15.8],[2003.04,14.3],[2003.09,13.2],[2003.1,10.3],[2003.96,16.5],[2004.03,14.0],[2004.06,15.0],[2004.15,17.2],[2004.24,16.8],[2004.87,16.8],[2004.98,18.3],[2005.05,11.0],[2005.06,8.2],[2005.05,6.0],[2005.06,9.6],[2005.05,1.0],[2005.07,3.5],[2005.12,10.3]];
const uL2x = [[1998.33,28.4],[1998.36,27.7],[1998.92,35.5],[1998.95,33.2],[1999.86,36.8],[1999.9,38.0],[1999.95,35.5],[1999.98,33.0],[2000.0,39.0],[2000.03,38.8],[2000.06,20.5],[2000.07,16.8],[2001.0,20.5],[2001.0,18.3],[2001.09,20.5],[2001.9,20.5],[2001.96,19.8],[2001.98,17.5],[2001.99,15.5],[2002.0,18.5],[2002.16,16.9],[2002.16,20.5],[2003.04,7.4],[2003.09,17.6],[2003.09,10.3],[2004.02,17.6],[2004.04,27.0],[2004.06,25.5],[2004.05,14.7],[2004.11,14.7],[2004.24,15.0],[2004.24,13.6],[2004.85,17.9],[2004.89,16.8],[2004.98,20.5],[2005.06,16.1],[2005.08,14.0],[2005.05,2.4],[2005.1,16.8],[2005.19,19.4]];
const uL3x = [[1997.93,8.0],[1997.93,12.0],[1998.36,-6.7],[1998.35,-13.2],[1998.44,16.8],[1998.88,-7.0],[1998.88,-10.6],[1998.9,-23.0],[1998.95,-27.7],[1999.02,11.0],[1999.47,-13.5],[1999.46,-10.0],[1999.08,11.4],[1999.08,8.9],[1999.08,-22.6],[1999.88,10.3],[1999.93,12.5],[1999.95,8.2],[2000.0,14.7],[1999.97,36.4],[2000.06,-2.0],[2000.95,-1.2],[2001.9,-6.3],[2001.96,-1.2],[2001.97,-3.4],[2001.98,-6.0],[2001.9,3.8],[2001.95,3.1],[2002.15,0.9],[2002.14,3.1],[2001.0,4.5],[2001.09,13.2],[2001.17,12.3],[2001.3,11.6],[2000.66,11.4],[2000.74,12.3],[2000.84,11.6],[2003.04,3.8],[2003.08,3.1],[2003.09,6.0],[2004.02,5.3],[2004.02,3.5],[2004.11,6.3],[2004.23,4.5],[2004.17,6.3],[2004.99,30.6],[2005.06,-4.1],[2005.06,-7.8],[2005.05,-1.2],[2005.09,1.6],[2005.14,2.4],[2005.15,8.2],[2004.86,5.6],[2004.88,6.7]];

// ---------- build ----------
function toPoints(valsA, valsB, extra) {
  const pts = [];
  valsA.forEach((v, i) => { if (v !== null) pts.push({x: gridStart + i * gridStep, y: v}); });
  valsB.forEach((v, i) => { if (v !== null) pts.push({x: gridStart + (i + 0.5) * gridStep, y: v}); });
  extra.forEach(([t, v]) => pts.push({x: t, y: v, outlier: true}));
  return pts;
}

const decor = {
  id: 'decor',
  beforeDatasetsDraw(chart) {
    const {ctx, chartArea: a, scales: {x}} = chart;
    const x0 = x.getPixelForValue(yellowSpan[0]);
    const x1 = x.getPixelForValue(yellowSpan[1]);
    ctx.save();
    ctx.fillStyle = '#FFFF00';
    ctx.fillRect(x0, a.top, x1 - x0, a.bottom - a.top);
    ctx.strokeStyle = '#000';
    ctx.lineWidth = 2;
    ctx.beginPath();
    ctx.moveTo(x0, a.top); ctx.lineTo(x0, a.bottom);
    ctx.moveTo(x1, a.top); ctx.lineTo(x1, a.bottom);
    ctx.stroke();
    const xm = x.getPixelForValue(radomeSwitch);
    ctx.strokeStyle = '#FF00FF';
    ctx.lineWidth = 1.5;
    ctx.beginPath(); ctx.moveTo(xm, a.top); ctx.lineTo(xm, a.bottom); ctx.stroke();
    ctx.restore();
  },
  afterDatasetsDraw(chart) {
    const {ctx, chartArea: a, scales: {x, y}} = chart;
    const tl = 18;
    ctx.save();
    ctx.strokeStyle = '#262626';
    ctx.lineWidth = 2;
    ctx.strokeRect(a.left, a.top, a.right - a.left, a.bottom - a.top);
    ctx.beginPath();
    years.slice(1).forEach(v => {
      const px = x.getPixelForValue(v);
      ctx.moveTo(px, a.top); ctx.lineTo(px, a.top + tl);
      ctx.moveTo(px, a.bottom); ctx.lineTo(px, a.bottom - tl);
    });
    y.ticks.forEach(t => {
      const py = y.getPixelForValue(t.value);
      ctx.moveTo(a.left, py); ctx.lineTo(a.left + tl, py);
      ctx.moveTo(a.right, py); ctx.lineTo(a.right - tl, py);
    });
    ctx.stroke();
    ctx.restore();
  }
};

const panels = [
  {id: 'cN', title: panelTitles[0], range: yRanges[0], ticks: northTicks, ref: refLevels[0], series: [[nL1, nL1B, nL1x], [nL2, nL2B, nL2x], [nL3, nL3B, nL3x]], padTop: 22, padBottom: 50, showX: false},
  {id: 'cE', title: panelTitles[1], range: yRanges[1], ticks: eastTicks, ref: refLevels[1], series: [[eL1, eL1B, eL1x], [eL2, eL2B, eL2x], [eL3, eL3B, eL3x]], padTop: 24, padBottom: 50, showX: false},
  {id: 'cU', title: panelTitles[2], range: yRanges[2], ticks: upTicks, ref: refLevels[2], series: [[uL1, uL1B, uL1x], [uL2, uL2B, uL2x], [uL3, uL3B, uL3x]], padTop: 25, padBottom: 0, showX: true}
];

panels.forEach(p => {
  const datasets = [{
    label: 'reference',
    data: [{x: xRange[0], y: p.ref}, {x: xRange[1], y: p.ref}],
    showLine: true, borderColor: '#000', borderWidth: 6, pointRadius: 0, order: 0
  }];
  p.series.forEach(([valsA, valsB, extra], k) => {
    datasets.push({
      label: seriesNames[k],
      data: toPoints(valsA, valsB, extra),
      showLine: false,
      pointStyle: 'rectRot',
      pointRadius: c => (c.raw && c.raw.outlier) ? 5 : 6.5,
      pointBorderWidth: 0,
      backgroundColor: seriesColors[k],
      borderColor: seriesColors[k],
      order: 3 - k
    });
  });
  new Chart(document.getElementById(p.id), {
    type: 'scatter',
    data: {datasets},
    options: {
      responsive: false, animation: false, devicePixelRatio: 1,
      layout: {padding: {top: p.padTop, bottom: p.padBottom, left: 0, right: 5}},
      plugins: {legend: {display: false}, tooltip: {enabled: false}},
      scales: {
        x: {
          type: 'linear', min: xRange[0], max: xRange[1], display: p.showX,
          afterBuildTicks: s => { s.ticks = years.map(v => ({value: v})); },
          afterFit: s => { s.height = 51; },
          grid: {display: false, drawTicks: false},
          border: {display: false},
          ticks: {callback: v => String(v), color: '#000', padding: 12, maxRotation: 0, autoSkip: false,
                  font: {family: 'Liberation Sans', size: 31}}
        },
        y: {
          type: 'linear', min: p.range[0], max: p.range[1],
          afterBuildTicks: s => { s.ticks = p.ticks.map(v => ({value: v})); },
          afterFit: s => { s.width = 171; },
          grid: {display: false, drawTicks: false},
          border: {display: false},
          ticks: {callback: v => String(v), color: '#000', padding: 12, font: {family: 'DejaVu Sans', size: 31}},
          title: {display: true, text: p.title, color: '#000', padding: {top: 9, bottom: 0},
                  font: {family: 'Liberation Sans', size: 36}}
        }
      }
    },
    plugins: [decor]
  });
});

document.getElementById('radome').textContent = boxText;
const lg = document.getElementById('legend');
seriesNames.forEach((n, k) => {
  const s = document.createElement('span');
  s.textContent = n;
  s.style.color = seriesColors[k];
  lg.appendChild(s);
});
</script>
</body></html>
